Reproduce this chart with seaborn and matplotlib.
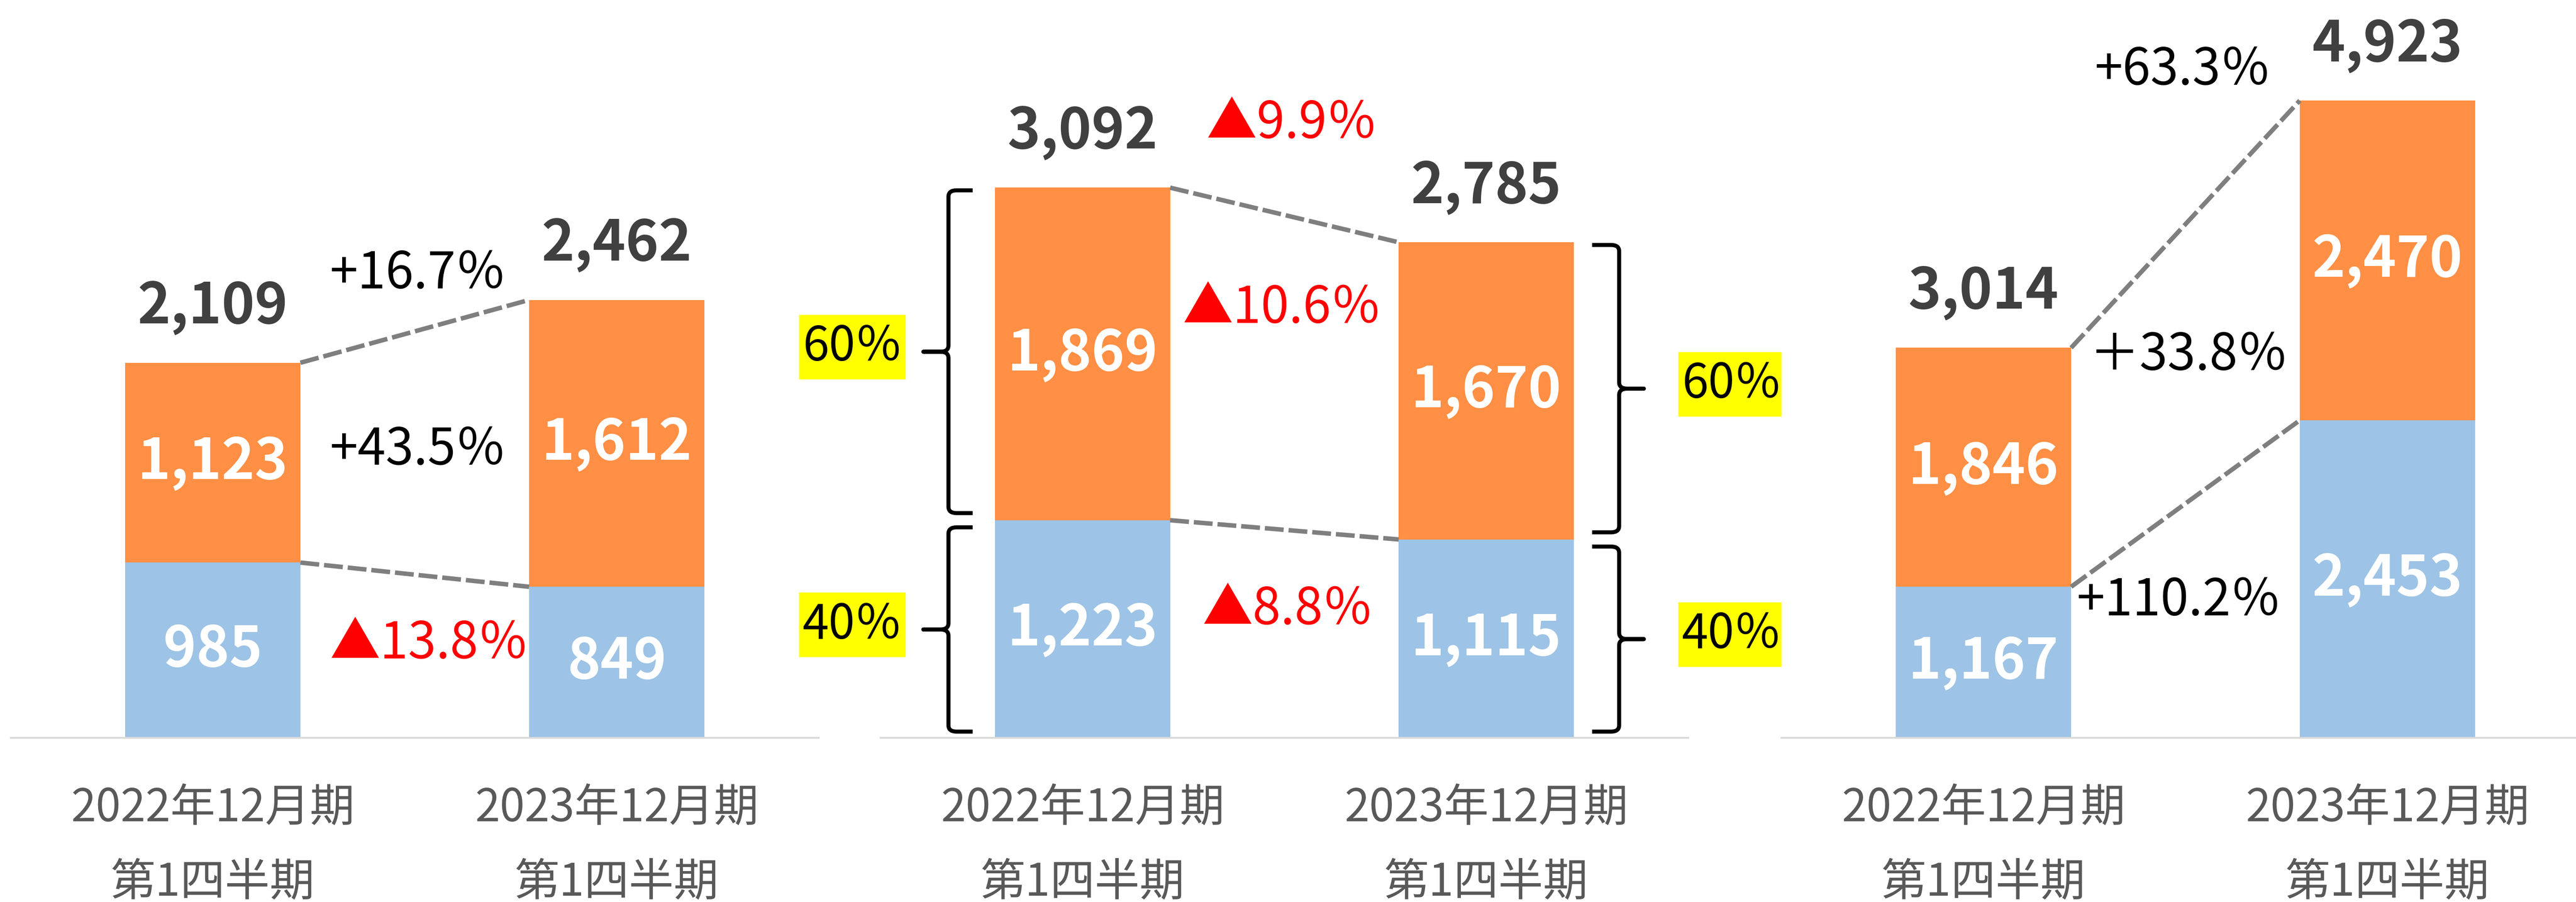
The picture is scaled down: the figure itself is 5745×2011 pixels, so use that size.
import numpy as np
import pandas as pd
import matplotlib
matplotlib.use("Agg")
import matplotlib.pyplot as plt
from matplotlib.path import Path
from matplotlib.patches import PathPatch, Rectangle
from matplotlib.transforms import Affine2D, ScaledTranslation
import seaborn as sns

# data
periods = ["2022年12月期\n第1四半期", "2023年12月期\n第1四半期"]

p1_blue = [985, 849]
p1_orange = [1123, 1612]
p1_total = [2109, 2462]
p1_change = ["+16.7％", "+43.5％", "▲13.8％"]   # total, orange, blue

p2_blue = [1223, 1115]
p2_orange = [1869, 1670]
p2_total = [3092, 2785]
p2_change = ["▲9.9％", "▲10.6％", "▲8.8％"]
p2_share = ["60％", "40％"]   # orange, blue

p3_blue = [1167, 2453]
p3_orange = [1846, 2470]
p3_total = [3014, 4923]
p3_change = ["+63.3％", "＋33.8％", "+110.2％"]

# style
BLUE = "#9DC3E6"
ORANGE = "#FF8F44"
DARK = "#404040"
GRAY_LINE = "#7F7F7F"
AXIS = "#D9D9D9"
BW = 0.434
W, H = 5745, 2011
PX = 72 / 100  # points per pixel

sns.set_style("white")
plt.rcParams["font.family"] = ["Noto Sans CJK JP", "DejaVu Sans"]

fig = plt.figure(figsize=(W / 100, H / 100), dpi=100)


def make_ax(left_px, width_px, ymax):
    ax = fig.add_axes([left_px / W, 366 / H, width_px / W, 1645 / H])
    ax.set_xlim(-0.5, 1.5)
    ax.set_ylim(0, ymax)
    return ax


def draw_panel(ax, blue, orange, total, ticks=True):
    df = pd.DataFrame({"period": periods, "blue": blue, "orange": orange})
    df["stack"] = df["blue"] + df["orange"]
    sns.barplot(data=df, x="period", y="stack", color=ORANGE, width=BW,
                saturation=1, linewidth=0, ax=ax)
    sns.barplot(data=df, x="period", y="blue", color=BLUE, width=BW,
                saturation=1, linewidth=0, ax=ax)
    ax.set_xlim(-0.5, 1.5)
    ax.set_xlabel("")
    ax.set_ylabel("")
    ax.set_yticks([])
    for s in ["top", "left", "right"]:
        ax.spines[s].set_visible(False)
    ax.spines["bottom"].set_color(AXIS)
    ax.spines["bottom"].set_linewidth(4 * PX)
    ax.tick_params(axis="x", which="major", length=0, pad=76,
                   labelsize=72, labelcolor="#595959")
    for lab in ax.get_xticklabels():
        lab.set_linespacing(1.78)
    if ticks:
        ax.set_xticks([-0.5, 0.5, 1.5], minor=True)
        ax.tick_params(axis="x", which="minor", length=31 * PX, width=4 * PX,
                       color=AXIS, direction="out")

    for i in range(2):
        b, o, st = df["blue"][i], df["orange"][i], df["stack"][i]
        ax.text(i, b / 2, f"{b:,}", ha="center", va="center", color="white",
                fontsize=90, fontweight="bold")
        ax.text(i, b + o / 2, f"{o:,}", ha="center", va="center", color="white",
                fontsize=90, fontweight="bold")
        ax.annotate(f"{total[i]:,}", xy=(i, st), xytext=(0, 88 * PX),
                    textcoords="offset points", ha="center", va="baseline",
                    color=DARK, fontsize=90, fontweight="bold")

    dash = dict(color=GRAY_LINE, lw=10 * PX, dashes=(4.2, 1.1),
                solid_capstyle="butt", dash_capstyle="butt")
    ax.plot([BW / 2, 1 - BW / 2], df["stack"], **dash)
    ax.plot([BW / 2, 1 - BW / 2], df["blue"], **dash)
    return df


def brace(ax, xv, xe, xt, y0, y1, ypx):
    # curly brace with vertical stroke at xv, ends pointing to xe, tip at xt
    ym = (y0 + y1) / 2
    sx = np.sign(xe - xv)
    cx = 18 / 900
    rc = 14 * ypx
    verts = [(xe, y1), (xv + sx * cx, y1), (xv, y1), (xv, y1 - rc),
             (xv, ym + rc), (xv, ym), (xv - sx * cx, ym), (xt, ym),
             (xv - sx * cx, ym), (xv, ym), (xv, ym - rc),
             (xv, y0 + rc), (xv, y0), (xv + sx * cx, y0), (xe, y0)]
    codes = [Path.MOVETO, Path.LINETO, Path.CURVE3, Path.CURVE3,
             Path.LINETO, Path.CURVE3, Path.CURVE3, Path.LINETO,
             Path.LINETO, Path.CURVE3, Path.CURVE3,
             Path.LINETO, Path.CURVE3, Path.CURVE3, Path.LINETO]
    ax.add_patch(PathPatch(Path(verts, codes), fill=False, lw=9 * PX,
                           ec="black", capstyle="butt", joinstyle="round",
                           clip_on=False))


def share_box(ax, x, y, s):
    # yellow highlight box of fixed pixel size centred on (x, y)
    tr = Affine2D().translate(-119, -72) + ScaledTranslation(x, y, ax.transData)
    ax.add_patch(Rectangle((0, 0), 238, 144, transform=tr, fc="#FFFF00",
                           ec="none", clip_on=False))
    ax.text(x, y, s, ha="center", va="center", fontsize=76, color="black",
            clip_on=False)


def change_text(ax, x, y, s, ha="center"):
    col = "#FF0000" if s.startswith("▲") else "black"
    ax.text(x, y, s, ha=ha, va="center", color=col, fontsize=81)


# panel 1
ax1 = make_ax(24, 1802, 1645 / 0.3967)
draw_panel(ax1, p1_blue, p1_orange, p1_total)
for s, y in zip(p1_change, [2606, 1616, 527]):
    change_text(ax1, 0.29, y, s, ha="left")

# panel 2
ax2 = make_ax(1964, 1801, 1645 / 0.3967)
d2 = draw_panel(ax2, p2_blue, p2_orange, p2_total, ticks=False)
for s, x, y in zip(p2_change, [0.519, 0.494, 0.509], [3451, 2412, 718]):
    change_text(ax2, x, y, s)
ypx = 1 / 0.3967
gap = 40
for i, (xv, xe, xt, xb) in enumerate([(-0.332, -0.272, -0.394, -0.570),
                                     (1.329, 1.262, 1.390, 1.608)]):
    b, st = d2["blue"][i], d2["stack"][i]
    brace(ax2, xv, xe, xt, b + gap, st - 15, ypx)
    brace(ax2, xv, xe, xt, 35, b - gap, ypx)
    for s, y in zip(p2_share, [(b + gap + st - 15) / 2 + 25, (35 + b - gap) / 2 + 25]):
        share_box(ax2, xb, y, s)

# panel 3
ax3 = make_ax(3973, 1802, 1645 / 0.2886)
draw_panel(ax3, p3_blue, p3_orange, p3_total)
for s, x, y in zip(p3_change, [0.494, 0.508, 0.484], [5156, 2952, 1057]):
    change_text(ax3, x, y, s)

fig.savefig("out.png", dpi=100, facecolor="white")
